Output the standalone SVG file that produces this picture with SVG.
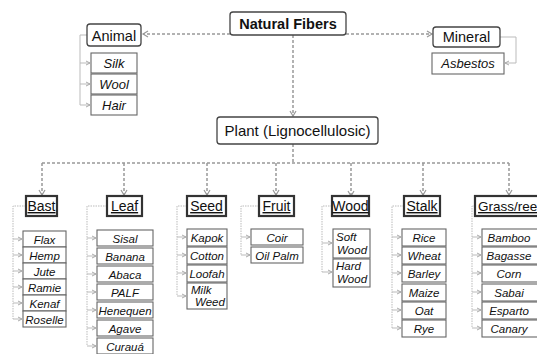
<svg xmlns="http://www.w3.org/2000/svg" width="537" height="354" viewBox="0 0 537 354">
<defs>
<marker id="ah" markerWidth="8" markerHeight="8" refX="6" refY="4" orient="auto" markerUnits="userSpaceOnUse">
<path d="M1,1 L6,4 L1,7" fill="none" stroke="#999" stroke-width="1.2"/>
</marker>
<marker id="as" markerWidth="6" markerHeight="6" refX="5" refY="3" orient="auto" markerUnits="userSpaceOnUse">
<path d="M1,1 L5,3 L1,5" fill="none" stroke="#aaa" stroke-width="1"/>
</marker>
<style>
text{font-family:"Liberation Sans",Arial,sans-serif;fill:#111}
.main{fill:#fff;stroke:#444;stroke-width:1.3}
.cat{fill:#fff;stroke:#333;stroke-width:2.2}
.child{fill:#fff;stroke:#666;stroke-width:1.1}
.dash{fill:none;stroke:#999;stroke-width:1.5;stroke-dasharray:3,2}
.brk{fill:none;stroke:#bbb;stroke-width:1;stroke-dasharray:1.5,1}
.sol{fill:none;stroke:#bbb;stroke-width:1}
.t1{font-size:14.5px;font-weight:bold;text-anchor:middle}
.t2{font-size:14.5px;text-anchor:middle}
.tc{font-size:14px;text-anchor:middle;text-decoration:underline}
.ti{font-size:11.5px;font-style:italic;text-anchor:middle}
.ta{font-size:13px;font-style:italic;text-anchor:middle}
</style>
</defs>

<g id="connectors">
<path class="dash" d="M230,34 H143" marker-end="url(#ah)"/>
<path class="dash" d="M346,34 H432" marker-end="url(#ah)"/>
<path class="dash" d="M293,35 V116" marker-end="url(#ah)"/>
<path class="dash" d="M293,144 V163 M42,163 H509"/>
<path class="dash" d="M42,163 V195" marker-end="url(#ah)"/>
<path class="dash" d="M124,163 V195" marker-end="url(#ah)"/>
<path class="dash" d="M207,163 V195" marker-end="url(#ah)"/>
<path class="dash" d="M276,163 V195" marker-end="url(#ah)"/>
<path class="dash" d="M351,163 V196" marker-end="url(#ah)"/>
<path class="dash" d="M423,163 V195" marker-end="url(#ah)"/>
<path class="dash" d="M509,163 V195" marker-end="url(#ah)"/>
<path class="sol" d="M87,35 H80 V105"/>
<g class="sol" marker-end="url(#as)">
<path d="M80,63 H90"/><path d="M80,84 H90"/><path d="M80,105 H90"/>
</g>
<path class="sol" d="M500,37 H516 V63 H505" marker-end="url(#as)"/>
<path class="brk" d="M26,206 H13 V319"/>
<g class="sol" marker-end="url(#as)">
<path d="M13,239 H22"/><path d="M13,255 H22"/><path d="M13,271 H22"/><path d="M13,287 H22"/><path d="M13,303 H22"/><path d="M13,319 H22"/>
</g>
<path class="brk" d="M107,206 H87 V346"/>
<g class="sol" marker-end="url(#as)">
<path d="M87,238 H96"/><path d="M87,256 H96"/><path d="M87,274 H96"/><path d="M87,292 H96"/><path d="M87,310 H96"/><path d="M87,328 H96"/><path d="M87,346 H96"/>
</g>
<path class="brk" d="M187,206 H177 V296"/>
<g class="sol" marker-end="url(#as)">
<path d="M177,237 H186"/><path d="M177,255 H186"/><path d="M177,273 H186"/><path d="M177,296 H186"/>
</g>
<path class="brk" d="M259,206 H241 V255"/>
<g class="sol" marker-end="url(#as)">
<path d="M241,237 H250"/><path d="M241,255 H250"/>
</g>
<path class="brk" d="M332,206 H322 V272"/>
<g class="sol" marker-end="url(#as)">
<path d="M322,243 H332"/><path d="M322,272 H332"/>
</g>
<path class="brk" d="M404,206 H392 V328"/>
<g class="sol" marker-end="url(#as)">
<path d="M392,237 H401"/><path d="M392,255 H401"/><path d="M392,273 H401"/><path d="M392,292 H401"/><path d="M392,310 H401"/><path d="M392,328 H401"/>
</g>
<path class="brk" d="M475,206 H472 V328"/>
<g class="sol" marker-end="url(#as)">
<path d="M472,237 H481"/><path d="M472,255 H481"/><path d="M472,273 H481"/><path d="M472,292 H481"/><path d="M472,310 H481"/><path d="M472,328 H481"/>
</g>
</g>

<g id="natural-fibers"><rect class="main" x="230" y="12" width="116" height="23" rx="3"/><text class="t1" x="288" y="29">Natural Fibers</text></g>
<g id="animal"><rect class="main" x="87" y="24" width="54" height="22" rx="3"/><text class="t2" x="114" y="40.5">Animal</text></g>
<g id="mineral"><rect class="main" x="433" y="27" width="67" height="20" rx="3"/><text class="t2" x="466.5" y="42">Mineral</text></g>
<g id="plant"><rect class="main" x="217" y="117" width="161" height="27" rx="3"/><text class="t2" x="297.5" y="136" style="font-size:15px">Plant (Lignocellulosic)</text></g>

<g id="silk"><rect class="child" x="91" y="53" width="46" height="20"/><text class="ta" x="114" y="68">Silk</text></g>
<g id="wool"><rect class="child" x="91" y="74" width="46" height="20"/><text class="ta" x="114" y="89">Wool</text></g>
<g id="hair"><rect class="child" x="91" y="95" width="46" height="20"/><text class="ta" x="114" y="110">Hair</text></g>
<g id="asbestos"><rect class="child" x="432" y="53" width="72" height="21"/><text class="ta" x="468" y="68">Asbestos</text></g>

<g id="bast"><rect class="cat" x="26" y="196" width="31" height="20"/><text class="tc" x="41.5" y="211">Bast</text></g>
<g id="leaf"><rect class="cat" x="107" y="196" width="35" height="20"/><text class="tc" x="124.5" y="211">Leaf</text></g>
<g id="seed"><rect class="cat" x="187" y="196" width="39" height="20"/><text class="tc" x="206.5" y="211">Seed</text></g>
<g id="fruit"><rect class="cat" x="259" y="196" width="35" height="20"/><text class="tc" x="276.5" y="211">Fruit</text></g>
<g id="wood"><rect class="cat" x="332" y="196" width="37" height="20"/><text class="tc" x="350.5" y="211">Wood</text></g>
<g id="stalk"><rect class="cat" x="404" y="196" width="36" height="20"/><text class="tc" x="422" y="211">Stalk</text></g>
<g id="grass"><rect class="cat" x="475" y="196" width="70" height="20"/><text class="tc" x="478" y="211" style="text-anchor:start;font-size:13.5px">Grass/ree</text></g>

<g id="bast-items">
<rect class="child" x="23" y="231" width="43" height="16"/><text class="ti" x="44.5" y="243.5">Flax</text>
<rect class="child" x="23" y="247" width="43" height="16"/><text class="ti" x="44.5" y="259.5">Hemp</text>
<rect class="child" x="23" y="263" width="43" height="16"/><text class="ti" x="44.5" y="275.5">Jute</text>
<rect class="child" x="23" y="279" width="43" height="16"/><text class="ti" x="44.5" y="291.5">Ramie</text>
<rect class="child" x="23" y="295" width="43" height="16"/><text class="ti" x="44.5" y="307.5">Kenaf</text>
<rect class="child" x="23" y="311" width="43" height="16"/><text class="ti" x="44.5" y="323.5">Roselle</text>
</g>
<g id="leaf-items">
<rect class="child" x="97" y="230" width="56" height="16"/><text class="ti" x="125" y="242.5">Sisal</text>
<rect class="child" x="97" y="248" width="56" height="16"/><text class="ti" x="125" y="260.5">Banana</text>
<rect class="child" x="97" y="266" width="56" height="16"/><text class="ti" x="125" y="278.5">Abaca</text>
<rect class="child" x="97" y="284" width="56" height="16"/><text class="ti" x="125" y="296.5">PALF</text>
<rect class="child" x="97" y="302" width="56" height="16"/><text class="ti" x="125" y="314.5">Henequen</text>
<rect class="child" x="97" y="320" width="56" height="16"/><text class="ti" x="125" y="332.5">Agave</text>
<rect class="child" x="97" y="338" width="56" height="16"/><text class="ti" x="125" y="350.5">Curauá</text>
</g>
<g id="seed-items">
<rect class="child" x="187" y="229" width="40" height="17"/><text class="ti" x="207" y="242">Kapok</text>
<rect class="child" x="187" y="247" width="40" height="17"/><text class="ti" x="207" y="260">Cotton</text>
<rect class="child" x="187" y="265" width="40" height="17"/><text class="ti" x="207" y="278">Loofah</text>
<rect class="child" x="187" y="283" width="40" height="26"/><text class="ti" x="191" y="294" style="text-anchor:start">Milk</text><text class="ti" x="195" y="306" style="text-anchor:start">Weed</text>
</g>
<g id="fruit-items">
<rect class="child" x="251" y="229" width="52" height="16"/><text class="ti" x="277" y="241.5">Coir</text>
<rect class="child" x="251" y="247" width="52" height="16"/><text class="ti" x="277" y="259.5">Oil Palm</text>
</g>
<g id="wood-items">
<rect class="child" x="333" y="229" width="37" height="29"/><text class="ti" x="336" y="241" style="text-anchor:start">Soft</text><text class="ti" x="337" y="254" style="text-anchor:start">Wood</text>
<rect class="child" x="333" y="259" width="37" height="28"/><text class="ti" x="336" y="270" style="text-anchor:start">Hard</text><text class="ti" x="337" y="283" style="text-anchor:start">Wood</text>
</g>
<g id="stalk-items">
<rect class="child" x="402" y="229" width="44" height="17"/><text class="ti" x="424" y="242">Rice</text>
<rect class="child" x="402" y="247" width="44" height="17"/><text class="ti" x="424" y="260">Wheat</text>
<rect class="child" x="402" y="265" width="44" height="17"/><text class="ti" x="424" y="278">Barley</text>
<rect class="child" x="402" y="284" width="44" height="17"/><text class="ti" x="424" y="297">Maize</text>
<rect class="child" x="402" y="302" width="44" height="17"/><text class="ti" x="424" y="315">Oat</text>
<rect class="child" x="402" y="320" width="44" height="17"/><text class="ti" x="424" y="333">Rye</text>
</g>
<g id="grass-items">
<rect class="child" x="482" y="229" width="56" height="17"/><text class="ti" x="509" y="242">Bamboo</text>
<rect class="child" x="482" y="247" width="56" height="17"/><text class="ti" x="509" y="260">Bagasse</text>
<rect class="child" x="482" y="265" width="56" height="17"/><text class="ti" x="509" y="278">Corn</text>
<rect class="child" x="482" y="284" width="56" height="17"/><text class="ti" x="509" y="297">Sabai</text>
<rect class="child" x="482" y="302" width="56" height="17"/><text class="ti" x="509" y="315">Esparto</text>
<rect class="child" x="482" y="320" width="56" height="17"/><text class="ti" x="509" y="333">Canary</text>
</g>
</svg>
